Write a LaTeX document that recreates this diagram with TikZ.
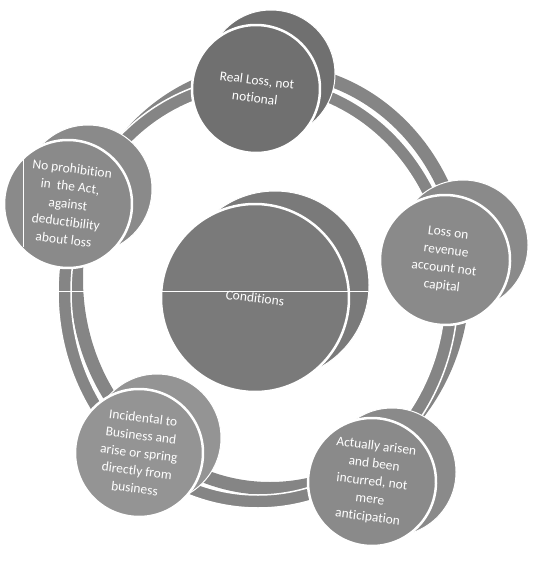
\documentclass[tikz,border=0pt]{standalone}
\usepackage{fontspec}
\setmainfont{Carlito}[Ligatures=NoCommon]
\definecolor{topgray}{gray}{0.44}
\definecolor{midgray}{gray}{0.48}
\definecolor{sidegray}{gray}{0.54}
\definecolor{lightgray}{gray}{0.58}
\definecolor{ringgray}{gray}{0.52}
\begin{document}
\begin{tikzpicture}[x=1pt, y=-1pt,
  disk/.style={circle, fill=#1, draw=white, line width=2.5pt, inner sep=0pt,
    text=white, align=center, font=\fontsize{13.5}{17.8}\selectfont, rotate=-7},
  back/.style={fill=#1, draw=white, line width=1pt}]
  \useasboundingbox (0,0) rectangle (533,569);
  % ring, back and front
  \fill[ringgray, even odd rule] (270,279) ellipse [x radius=200, y radius=216]
        (270,279) ellipse [x radius=187, y radius=203];
  \draw[fill=ringgray, draw=white, line width=1.5pt, even odd rule]
        (258,292) ellipse [x radius=200, y radius=216]
        (258,292) ellipse [x radius=187, y radius=203];
  % outer disks
  \fill[back=topgray] (271,74) circle (64);
  \node[disk=topgray, minimum size=128pt] (real) at (256,89) {Real Loss, not\\notional};
  \fill[back=sidegray] (88,189) circle (64);
  \node[disk=sidegray, minimum size=128pt] (prohib) at (68,204)
        {No prohibition\\in\ \ the Act,\\against\\deductibility\\about loss};
  \fill[back=sidegray] (463,245) circle (65);
  \node[disk=sidegray, minimum size=130pt] (revenue) at (445,260)
        {Loss on\\revenue\\account not\\capital};
  \fill[back=sidegray] (392,472) circle (64);
  \node[disk=sidegray, minimum size=128pt] (arisen) at (372,482)
        {Actually arisen\\and been\\incurred, not\\mere\\anticipation};
  \fill[back=lightgray] (157,438) circle (64);
  \node[disk=lightgray, minimum size=128pt] (incidental) at (139,453)
        {Incidental to\\Business and\\arise or spring\\directly from\\business};
  % centre
  \fill[back=midgray] (275,285) circle (94);
  \node[disk=midgray, minimum size=188pt] (cond) at (255,298) {Conditions};
  % stray white lines
  \draw[white, line width=0.8pt] (58,291) -- (368,291);
  \draw[white, line width=0.8pt] (23,150) -- (23,247);
\end{tikzpicture}
\end{document}
